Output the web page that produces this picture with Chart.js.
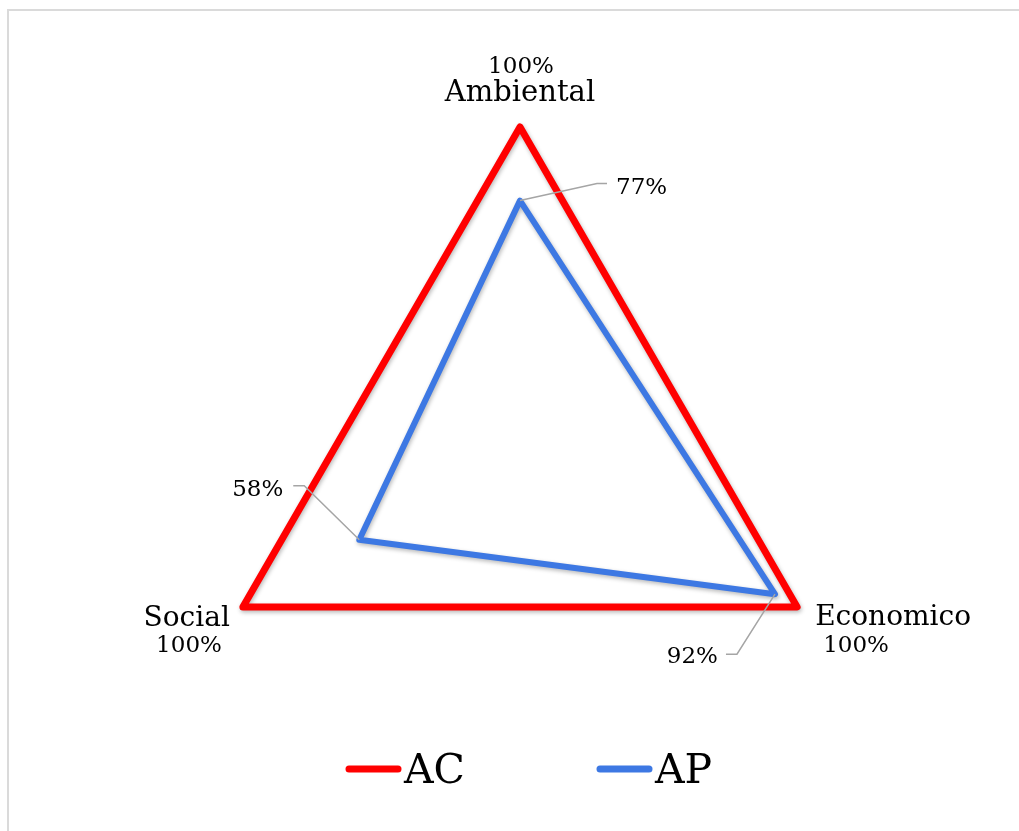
<!DOCTYPE html>
<html>
<head>
<meta charset="utf-8">
<script src="https://cdn.jsdelivr.net/npm/chart.js@4.4.1/dist/chart.umd.min.js"></script>
<style>
  html, body { margin: 0; padding: 0; background: #fff; overflow: hidden; }
  #frame { position: absolute; left: 7px; top: 9px; width: 2000px; height: 2000px;
           border-left: 2px solid #dadada; border-top: 2px solid #dadada; }
  #c { position: absolute; left: 0; top: 0; }
</style>
</head>
<body>
<div id="frame"></div>
<canvas id="c" width="1019" height="831"></canvas>
<script>
const categories = ['Ambiental', 'Economico', 'Social'];
const seriesNames = ['AC', 'AP'];
const acValues = [100, 100, 100];
const apValues = [77, 92, 58];
const axisTotalLabels = ['100%', '100%', '100%'];

const RED = '#ff0000';
const BLUE = '#3d78e3';
const SERIF = '"DejaVu Serif", serif';

const shadowPlugin = {
  id: 'shadow',
  beforeDatasetDraw(chart) {
    const ctx = chart.ctx;
    ctx.save();
    ctx.shadowColor = 'rgba(0,0,0,0.28)';
    ctx.shadowBlur = 4;
    ctx.shadowOffsetX = 1;
    ctx.shadowOffsetY = 2;
  },
  afterDatasetDraw(chart) { chart.ctx.restore(); }
};

const labelsPlugin = {
  id: 'labels',
  afterDraw(chart) {
    const ctx = chart.ctx;
    const s = chart.scales.r;
    const R = s.drawingArea;
    ctx.save();
    ctx.fillStyle = '#000';
    ctx.textBaseline = 'alphabetic';

    // axis names + totals
    const p0 = s.getPointPosition(0, R);
    const p1 = s.getPointPosition(1, R);
    const p2 = s.getPointPosition(2, R);

    ctx.textAlign = 'center';
    ctx.font = '23px ' + SERIF;
    ctx.fillText(axisTotalLabels[0], p0.x + 1, p0.y - 54);
    ctx.font = '29px ' + SERIF;
    ctx.fillText(categories[0], p0.x, p0.y - 26);

    ctx.textAlign = 'left';
    ctx.font = '28px ' + SERIF;
    ctx.fillText(categories[1], p1.x + 18, p1.y + 18);
    ctx.font = '23px ' + SERIF;
    ctx.fillText(axisTotalLabels[1], p1.x + 26, p1.y + 45);

    ctx.textAlign = 'right';
    ctx.font = '28px ' + SERIF;
    ctx.fillText(categories[2], p2.x - 13, p2.y + 19);
    ctx.font = '23px ' + SERIF;
    ctx.fillText(axisTotalLabels[2], p2.x - 21, p2.y + 45);

    // AP data labels with leader lines
    const meta = chart.getDatasetMeta(1);
    const perIndex = [
      {elbow: [77, -17], end: [87, -17], text: [96, -7], align: 'left'},
      {elbow: [-38, 60], end: [-49, 60], text: [-57, 69], align: 'right'},
      {elbow: [-55, -54], end: [-66, -54], text: [-76, -44], align: 'right'}
    ];
    ctx.strokeStyle = '#a5a5a5';
    ctx.lineWidth = 1.5;
    ctx.font = '23px ' + SERIF;
    meta.data.forEach((el, i) => {
      const c = perIndex[i];
      ctx.beginPath();
      ctx.moveTo(el.x, el.y);
      ctx.lineTo(el.x + c.elbow[0], el.y + c.elbow[1]);
      ctx.lineTo(el.x + c.end[0], el.y + c.end[1]);
      ctx.stroke();
      ctx.textAlign = c.align;
      ctx.fillText(apValues[i] + '%', el.x + c.text[0], el.y + c.text[1]);
    });

    // legend
    const legendY = 769;
    const starts = [349, 600];
    ctx.font = '41px ' + SERIF;
    ctx.textAlign = 'left';
    ctx.lineCap = 'round';
    chart.data.datasets.forEach((d, i) => {
      ctx.strokeStyle = d.borderColor;
      ctx.lineWidth = 7;
      ctx.beginPath();
      ctx.moveTo(starts[i], legendY);
      ctx.lineTo(starts[i] + 49, legendY);
      ctx.stroke();
      ctx.fillStyle = '#000';
      ctx.fillText(d.label, starts[i] + 55, 783);
    });
    ctx.restore();
  }
};

new Chart(document.getElementById('c'), {
  type: 'radar',
  data: {
    labels: categories,
    datasets: [
      { label: seriesNames[0], data: acValues, borderColor: RED, backgroundColor: 'transparent',
        borderWidth: 7, fill: false, pointRadius: 0, borderJoinStyle: 'round', borderCapStyle: 'round' },
      { label: seriesNames[1], data: apValues, borderColor: BLUE, backgroundColor: 'transparent',
        borderWidth: 6, fill: false, pointRadius: 0, borderJoinStyle: 'round', borderCapStyle: 'round' }
    ]
  },
  options: {
    responsive: false,
    animation: false,
    layout: { padding: { left: 200, right: 179, top: 127, bottom: 64 } },
    plugins: { legend: { display: false }, tooltip: { enabled: false } },
    scales: {
      r: {
        min: 0, max: 100,
        ticks: { display: false },
        grid: { display: false },
        angleLines: { display: false },
        pointLabels: { display: false }
      }
    }
  },
  plugins: [shadowPlugin, labelsPlugin]
});
</script>
</body>
</html>
